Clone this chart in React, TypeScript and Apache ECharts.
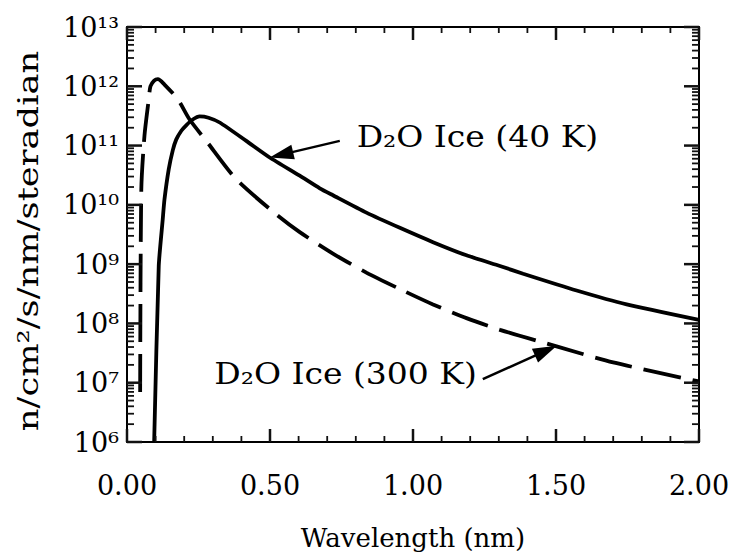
import React, { useEffect, useRef } from "react";
import * as echarts from "echarts";

// D2O ice at 40 K (solid)
const wl40 = [0.095, 0.111, 0.125, 0.131, 0.146, 0.16, 0.172, 0.19, 0.207, 0.23, 0.254, 0.285, 0.324, 0.417, 0.499, 0.604, 0.674, 0.72, 0.837, 0.954, 1.07, 1.187, 1.304, 1.385, 1.572, 1.747, 2.0];
const flux40 = [1e6, 9.3e8, 5.75e9, 1.23e10, 4.0e10, 8.3e10, 1.26e11, 1.78e11, 2.2e11, 2.75e11, 3.1e11, 2.95e11, 2.45e11, 1.2e11, 6.3e10, 3.1e10, 1.9e10, 1.45e10, 7.4e9, 4.1e9, 2.35e9, 1.41e9, 9.3e8, 6.9e8, 3.6e8, 2.1e8, 1.15e8];

// D2O ice at 300 K (dashed)
const wl300 = [0.046, 0.05, 0.061, 0.076, 0.082, 0.095, 0.108, 0.131, 0.178, 0.219, 0.277, 0.382, 0.522, 0.604, 0.72, 0.837, 0.954, 1.07, 1.187, 1.304, 1.502, 1.7, 2.0];
const flux300 = [7e6, 1.8e10, 1.45e11, 6e11, 1e12, 1.25e12, 1.32e12, 1.07e12, 6e11, 2.75e11, 1.2e11, 2.7e10, 6.9e9, 3.47e9, 1.51e9, 7.2e8, 3.8e8, 2.09e8, 1.23e8, 7.8e7, 4.1e7, 2.2e7, 1.05e7];

// axes, ticks and tick labels
const X_MIN = 0;
const X_MAX = 2;
const Y_MIN = 1e6;
const Y_MAX = 1e13;
const xTickValues = [0, 0.5, 1.0, 1.5, 2.0];
const xTickLabels = ["0.00", "0.50", "1.00", "1.50", "2.00"];
const xMinorSteps = [1, 2, 3, 4, 6, 7, 8, 9, 11, 12, 13, 14, 16, 17, 18, 19]; // tenths of nm
const yTickLabels = ["10⁶", "10⁷", "10⁸", "10⁹", "10¹⁰", "10¹¹", "10¹²", "10¹³"];
const yDecades = [6, 7, 8, 9, 10, 11, 12, 13];
const minorMultipliers = [2, 3, 4, 5, 6, 7, 8, 9];

const xTitle = "Wavelength (nm)";
const yTitle = "n/cm²/s/nm/steradian";

// annotations
const annoText = ["D₂O Ice (40 K)", "D₂O Ice (300 K)"];
const annoTip = [[0.499, 6.3e10], [1.503, 4.2e7]];
const annoTail = [[0.744, 1.2e11], [1.244, 1.15e7]];
const annoTextPos = [[0.803, 1.43e11], [1.223, 1.45e7]];
const annoAlign = ["left", "right"];

const FONT = '"DejaVu Serif", serif';
const INK = "#000";
const TICK_INK = "#111111";

export default function App() {
  const ref = useRef<HTMLDivElement>(null);
  useEffect(() => {
    if (!ref.current) return;
    const chart = echarts.init(ref.current, undefined, { renderer: "svg" });

    const annoData = annoText.map((_, i) => [
      annoTip[i][0], annoTip[i][1], annoTail[i][0], annoTail[i][1], annoTextPos[i][0], annoTextPos[i][1],
    ]);

    // tick marks on all four sides, placed through the axes' scales (api.coord)
    const tickChildren = (api: any) => {
      const out: any[] = [];
      const seg = (x1: number, y1: number, x2: number, y2: number, w: number) =>
        out.push({ type: "line", shape: { x1, y1, x2, y2 }, style: { stroke: TICK_INK, lineWidth: w } });
      yDecades.forEach((d) => {
        const vals = [Math.pow(10, d)];
        if (d < 13) minorMultipliers.forEach((m) => vals.push(m * Math.pow(10, d)));
        vals.forEach((v, k) => {
          const len = k === 0 ? 15 : 7;
          const w = k === 0 ? 2.5 : 1.8;
          const l = api.coord([X_MIN, v]);
          const r = api.coord([X_MAX, v]);
          seg(l[0], l[1], l[0] + len, l[1], w);
          seg(r[0], r[1], r[0] - len, r[1], w);
        });
      });
      const xt = (v: number, len: number, w: number) => {
        const b = api.coord([v, Y_MIN]);
        const t = api.coord([v, Y_MAX]);
        seg(b[0], b[1], b[0], b[1] - len, w);
        seg(t[0], t[1], t[0], t[1] + len, w);
      };
      xTickValues.forEach((v) => xt(v, 13, 2.5));
      xMinorSteps.forEach((s) => xt(s / 10, 6, 1.8));
      return out;
    };

    const axisLineStyle = { color: INK, width: 2 };
    const xAxisBase = (pos: string, showLabel: boolean) => ({
      type: "value",
      min: X_MIN,
      max: X_MAX,
      interval: 0.5,
      position: pos,
      axisLine: { show: true, onZero: false, lineStyle: axisLineStyle },
      axisTick: { show: false },
      minorTick: { show: false },
      splitLine: { show: false },
      axisLabel: showLabel
        ? {
            show: true,
            margin: 30,
            color: INK,
            fontFamily: FONT,
            fontSize: 27,
            formatter: (v: number) => {
              const k = xTickValues.findIndex((t) => Math.abs(t - v) < 1e-6);
              return k >= 0 ? xTickLabels[k] : v.toFixed(2);
            },
          }
        : { show: false },
    });
    const yAxisBase = (pos: string, showLabel: boolean) => ({
      type: "log",
      logBase: 10,
      min: Y_MIN,
      max: Y_MAX,
      splitNumber: 7,
      position: pos,
      axisLine: { show: true, onZero: false, lineStyle: axisLineStyle },
      axisTick: { show: false },
      splitLine: { show: false },
      axisLabel: showLabel
        ? {
            show: true,
            margin: 8,
            color: INK,
            fontFamily: FONT,
            fontSize: 27,
            formatter: (v: number) => yTickLabels[Math.round(Math.log10(v)) - 6] ?? "",
          }
        : { show: false },
    });

    const option: any = {
      animation: false,
      backgroundColor: "#fff",
      grid: { left: 127, top: 27, width: 572, height: 415, containLabel: false },
      xAxis: [
        {
          ...xAxisBase("bottom", true),
          name: xTitle,
          nameLocation: "middle",
          nameGap: 83,
          nameTextStyle: { color: INK, fontFamily: FONT, fontSize: 26 },
        },
        xAxisBase("top", false),
      ],
      yAxis: [yAxisBase("left", true), yAxisBase("right", false)],
      graphic: [
        {
          type: "text",
          x: 28,
          y: 241,
          rotation: Math.PI / 2,
          scaleX: 1.26,
          style: {
            text: yTitle,
            font: `28px ${FONT}`,
            fill: INK,
            align: "center",
            verticalAlign: "middle",
            textAlign: "center",
            textVerticalAlign: "middle",
          },
        },
      ],
      series: [
        {
          name: "D2O Ice (40 K)",
          type: "line",
          data: wl40.map((x, i) => [x, flux40[i]]),
          symbol: "none",
          smooth: 0.2,
          lineStyle: { color: INK, width: 3.8 },
          z: 4,
        },
        {
          name: "D2O Ice (300 K)",
          type: "line",
          data: wl300.map((x, i) => [x, flux300[i]]),
          symbol: "none",
          smooth: 0.25,
          lineStyle: { color: INK, width: 3.8, type: [38, 12] },
          z: 4,
        },
        {
          type: "custom",
          silent: true,
          data: annoData,
          clip: false,
          z: 6,
          renderItem: (params: any, api: any) => {
            const i = params.dataIndex;
            const tip = api.coord([api.value(0), api.value(1)]);
            const tail = api.coord([api.value(2), api.value(3)]);
            const tp = api.coord([api.value(4), api.value(5)]);
            const dx = tip[0] - tail[0];
            const dy = tip[1] - tail[1];
            const len = Math.sqrt(dx * dx + dy * dy);
            const ux = dx / len;
            const uy = dy / len;
            const L = 24;
            const W = 7.5;
            const bx = tip[0] - ux * L;
            const by = tip[1] - uy * L;
            const nx = -uy;
            const ny = ux;
            return {
              type: "group",
              children: [
                ...(i === 0 ? tickChildren(api) : []),
                { type: "line", shape: { x1: tail[0], y1: tail[1], x2: bx + ux * 2, y2: by + uy * 2 }, style: { stroke: INK, lineWidth: 2.5 } },
                {
                  type: "polygon",
                  shape: { points: [[tip[0], tip[1]], [bx + nx * W, by + ny * W], [bx - nx * W, by - ny * W]] },
                  style: { fill: INK },
                },
                {
                  type: "text",
                  x: tp[0],
                  y: tp[1],
                  scaleX: 1.1,
                  style: {
                    text: annoText[i],
                    font: `30px ${FONT}`,
                    fill: INK,
                    align: annoAlign[i],
                    verticalAlign: "middle",
                    textAlign: annoAlign[i],
                    textVerticalAlign: "middle",
                  },
                },
              ],
            };
          },
        },
      ],
    };
    chart.setOption(option);
    return () => chart.dispose();
  }, []);
  return <div ref={ref} style={{ position: "absolute", left: 0, top: 0, width: 736, height: 556 }} />;
}
